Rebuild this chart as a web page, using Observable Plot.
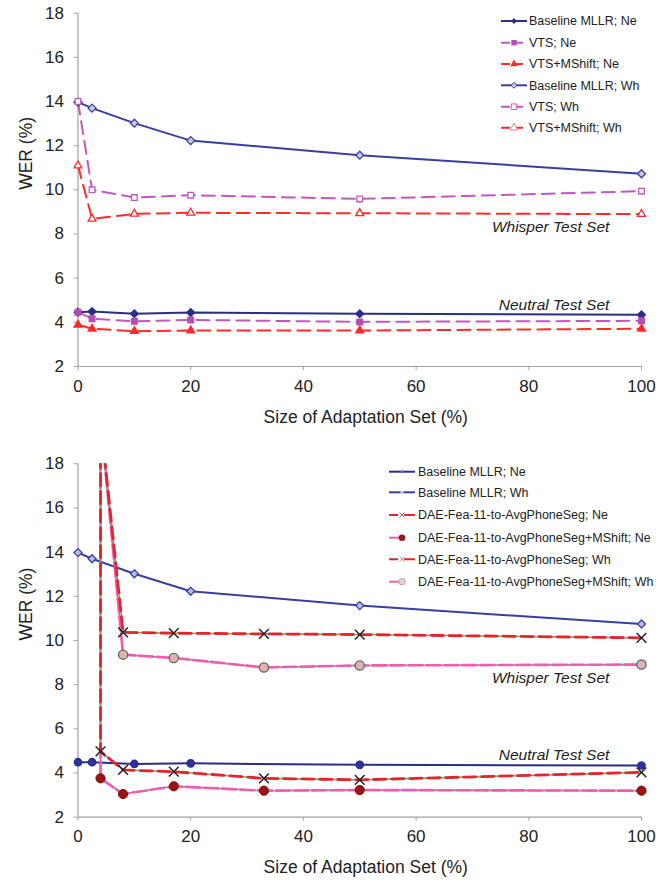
<!DOCTYPE html>
<html>
<head>
<meta charset="utf-8">
<script src="https://cdn.jsdelivr.net/npm/d3@7"></script>
<script src="https://cdn.jsdelivr.net/npm/@observablehq/plot@0.6"></script>
<style>
  html, body { margin: 0; padding: 0; background: #fff; }
  #chart { width: 671px; }
  svg { display: block; }
</style>
</head>
<body>
<div id="chart"></div>
<script>
// ---------- data (top chart) ----------
const xTop = [0, 2.5, 10, 20, 50, 100];
const topBaseNe = [4.46, 4.49, 4.39, 4.44, 4.39, 4.34];
const topVtsNe = [4.46, 4.16, 4.05, 4.11, 4.02, 4.07];
const topVtsMsNe = [3.89, 3.71, 3.60, 3.63, 3.63, 3.71];
const topBaseWh = [13.97, 13.70, 13.02, 12.23, 11.57, 10.73];
const topVtsWh = [14.0, 10.0, 9.65, 9.76, 9.59, 9.94];
const topVtsMsWh = [11.1, 8.69, 8.91, 8.96, 8.94, 8.90];

// ---------- data (bottom chart) ----------
const xBase = [0, 2.5, 10, 20, 50, 100];
const botBaseNe = [4.49, 4.49, 4.41, 4.44, 4.37, 4.34];
const botBaseWh = [13.98, 13.70, 13.02, 12.23, 11.58, 10.75];
// DAE series start off-scale (above 18) at x = 4
const xDaeNe = [4, 4, 8, 17, 33, 50, 100];
const daeNe = [20, 4.98, 4.14, 4.06, 3.76, 3.69, 4.03];
const daeMsNe = [20, 3.76, 3.05, 3.40, 3.20, 3.23, 3.20];
const xDaeWh = [4, 8, 17, 33, 50, 100];
const daeWh = [20, 10.37, 10.33, 10.30, 10.27, 10.12];
const daeMsWh = [20, 9.36, 9.21, 8.78, 8.87, 8.91];

const xTicks = [0, 20, 40, 60, 80, 100];
const yTicks = [2, 4, 6, 8, 10, 12, 14, 16, 18];
const yMax = 18;

const zip = (xs, ys) => xs.map((x, i) => ({x, y: ys[i]}));
const onScale = rows => rows.filter(d => d.y <= yMax);

const NAVY = "#2b2e86";
const NAVY2 = "#3a3e9c";
const MAG = "#c257c0";
const RED = "#ff2a2a";
const DRED = "#e4262b";
const PINK = "#f25bb4";
const GRAY = "#8a968a";
const FONT = "'Liberation Sans', Arial, Helvetica, sans-serif";

function frame(extra, margins) {
  return Plot.plot({
    width: 671,
    height: 442,
    ...margins,
    x: {domain: [0, 100]},
    y: {domain: [2, 18]},
    style: {fontFamily: FONT, fontSize: "17px", background: "white", color: "#222"},
    marks: [
      Plot.ruleX([0], {stroke: "#a0a0a0", strokeWidth: 1.2}),
      Plot.ruleY([2], {stroke: "#a0a0a0", strokeWidth: 1.2}),
      Plot.axisX({ticks: xTicks, tickSize: 4, tickPadding: 9, stroke: "#a0a0a0", fill: "#222", fontSize: 17, label: null}),
      Plot.axisY({ticks: yTicks, tickSize: 4, tickPadding: 10, stroke: "#a0a0a0", fill: "#222", fontSize: 17, label: null}),
      Plot.text(["WER (%)"], {frameAnchor: "left", dx: -52, rotate: -90, fontSize: 17.5, fill: "#222"}),
      Plot.text(["Size of Adaptation Set (%)"], {frameAnchor: "bottom", dx: 6, dy: 56, fontSize: 17.5, fill: "#222"}),
      Plot.text([{x: 94.3, y: 8.3, t: "Whisper Test Set"}, {x: 94.3, y: 4.8, t: "Neutral Test Set"}],
        {x: "x", y: "y", text: "t", textAnchor: "end", fontStyle: "italic", fontSize: 15.5, fill: "#222"}),
      ...extra
    ]
  });
}

function legend(svg, x0, x1, tx, entries) {
  const g = d3.select(svg).append("g").attr("font-family", FONT).attr("font-size", 12.5).attr("text-anchor", "start");
  entries.forEach(e => {
    const row = g.append("g").attr("transform", `translate(0,${e.y})`);
    row.append("line").attr("x1", x0).attr("x2", e.lineEnd ?? x1).attr("y1", 0).attr("y2", 0)
      .attr("stroke", e.color).attr("stroke-width", 2).attr("stroke-dasharray", e.dash || null);
    const sym = d3.symbol().type(e.symbol).size(e.size || 30);
    row.append("path").attr("d", sym()).attr("transform", `translate(${e.mx ?? (x0 + x1) / 2},0)`)
      .attr("fill", e.fill).attr("stroke", e.stroke || "none").attr("stroke-width", e.sw || 1);
    row.append("text").attr("x", tx).attr("y", 0).attr("dy", "0.35em").attr("fill", "#222").text(e.label);
  });
}

// ---------- top chart ----------
const tBaseNe = zip(xTop, topBaseNe), tVtsNe = zip(xTop, topVtsNe), tVtsMsNe = zip(xTop, topVtsMsNe);
const tBaseWh = zip(xTop, topBaseWh), tVtsWh = zip(xTop, topVtsWh), tVtsMsWh = zip(xTop, topVtsMsWh);

const topChart = frame([
  Plot.line(tBaseWh, {x: "x", y: "y", stroke: NAVY2, strokeWidth: 2}),
  Plot.line(tVtsWh, {x: "x", y: "y", stroke: MAG, strokeWidth: 2, strokeDasharray: "13,7"}),
  Plot.line(tVtsMsWh, {x: "x", y: "y", stroke: RED, strokeWidth: 2, strokeDasharray: "13,7"}),
  Plot.line(tBaseNe, {x: "x", y: "y", stroke: NAVY, strokeWidth: 2}),
  Plot.line(tVtsNe, {x: "x", y: "y", stroke: MAG, strokeWidth: 2, strokeDasharray: "13,7"}),
  Plot.line(tVtsMsNe, {x: "x", y: "y", stroke: RED, strokeWidth: 2, strokeDasharray: "13,7"}),
  Plot.dot(tBaseWh, {x: "x", y: "y", symbol: "diamond2", r: 3.6, fill: "#c9cbe6", stroke: NAVY2, strokeWidth: 1.3}),
  Plot.dot(tVtsWh, {x: "x", y: "y", symbol: "square2", r: 3.6, fill: "white", stroke: MAG, strokeWidth: 1.3}),
  Plot.dot(tVtsMsWh, {x: "x", y: "y", symbol: "triangle2", r: 3.8, fill: "white", stroke: RED, strokeWidth: 1.3}),
  Plot.dot(tBaseNe, {x: "x", y: "y", symbol: "diamond2", r: 3.4, fill: NAVY, stroke: NAVY}),
  Plot.dot(tVtsNe, {x: "x", y: "y", symbol: "square2", r: 3.5, fill: "#b54fb3", stroke: "#b54fb3"}),
  Plot.dot(tVtsMsNe, {x: "x", y: "y", symbol: "triangle2", r: 3.6, fill: RED, stroke: RED})
], {marginLeft: 77.5, marginRight: 30, marginTop: 12.7, marginBottom: 76});

legend(topChart, 501, 527, 529, [
  {y: 21, label: "Baseline MLLR; Ne", color: NAVY, symbol: d3.symbolDiamond2, fill: NAVY, size: 22},
  {y: 42.7, label: "VTS; Ne", color: MAG, dash: "9,4", lineEnd: 524, symbol: d3.symbolSquare, fill: "#b54fb3", size: 30},
  {y: 64, label: "VTS+MShift; Ne", color: RED, dash: "9,4", lineEnd: 524, symbol: d3.symbolTriangle, fill: RED, size: 26},
  {y: 85.3, label: "Baseline MLLR; Wh", color: NAVY2, symbol: d3.symbolDiamond2, fill: "#c9cbe6", stroke: NAVY2, size: 22},
  {y: 106.7, label: "VTS; Wh", color: MAG, dash: "9,4", lineEnd: 524, symbol: d3.symbolSquare, fill: "white", stroke: MAG, size: 30},
  {y: 127.7, label: "VTS+MShift; Wh", color: RED, dash: "9,4", lineEnd: 524, symbol: d3.symbolTriangle, fill: "white", stroke: "#f08080", size: 26}
]);

// ---------- bottom chart ----------
const bBaseNe = zip(xBase, botBaseNe), bBaseWh = zip(xBase, botBaseWh);
const bDaeNe = zip(xDaeNe, daeNe), bDaeMsNe = zip(xDaeNe, daeMsNe);
const bDaeWh = zip(xDaeWh, daeWh), bDaeMsWh = zip(xDaeWh, daeMsWh);

const bottomChart = frame([
  Plot.line(bBaseWh, {x: "x", y: "y", stroke: NAVY2, strokeWidth: 2}),
  Plot.line(bBaseNe, {x: "x", y: "y", stroke: NAVY, strokeWidth: 2}),
  Plot.line(bDaeMsWh, {x: "x", y: "y", stroke: GRAY, strokeWidth: 1.6, clip: true}),
  Plot.line(bDaeMsWh, {x: "x", y: "y", stroke: PINK, strokeWidth: 2.6, strokeDasharray: "14,4", clip: true}),
  Plot.line(bDaeWh, {x: "x", y: "y", stroke: GRAY, strokeWidth: 1.6, clip: true}),
  Plot.line(bDaeWh, {x: "x", y: "y", stroke: DRED, strokeWidth: 2.8, strokeDasharray: "12,6", clip: true}),
  Plot.line(bDaeMsNe, {x: "x", y: "y", stroke: GRAY, strokeWidth: 1.6, clip: true}),
  Plot.line(bDaeMsNe, {x: "x", y: "y", stroke: PINK, strokeWidth: 2.6, strokeDasharray: "14,4", clip: true}),
  Plot.line(bDaeNe, {x: "x", y: "y", stroke: GRAY, strokeWidth: 1.6, clip: true}),
  Plot.line(bDaeNe, {x: "x", y: "y", stroke: DRED, strokeWidth: 2.8, strokeDasharray: "12,6", clip: true}),
  Plot.dot(bBaseWh, {x: "x", y: "y", symbol: "diamond2", r: 3.6, fill: "#b9bde6", stroke: NAVY2, strokeWidth: 1.3}),
  Plot.dot(bBaseNe, {x: "x", y: "y", symbol: "circle", r: 3.6, fill: "#2f33a0", stroke: NAVY}),
  Plot.dot(onScale(bDaeWh), {x: "x", y: "y", symbol: "times", r: 4.5, stroke: "#222", strokeWidth: 1.5}),
  Plot.dot(onScale(bDaeNe), {x: "x", y: "y", symbol: "times", r: 4.5, stroke: "#222", strokeWidth: 1.5}),
  Plot.dot(onScale(bDaeMsWh), {x: "x", y: "y", symbol: "circle", r: 4.6, fill: "#e3b1b1", stroke: "#5f6a5f", strokeWidth: 1.3}),
  Plot.dot(onScale(bDaeMsNe), {x: "x", y: "y", symbol: "circle", r: 4.6, fill: "#9c1414", stroke: "#7a1010", strokeWidth: 1})
], {marginLeft: 77.5, marginRight: 30, marginTop: 21.3, marginBottom: 67.3});

legend(bottomChart, 389, 415, 418, [
  {y: 29.7, label: "Baseline MLLR; Ne", color: NAVY, symbol: d3.symbolCircle, fill: "#6b6fb8", size: 10},
  {y: 50.3, label: "Baseline MLLR; Wh", color: NAVY2, symbol: d3.symbolDiamond2, fill: "#c9cbe6", size: 12},
  {y: 73, label: "DAE-Fea-11-to-AvgPhoneSeg; Ne", color: DRED, dash: "9,6,11", symbol: d3.symbolTimes, fill: "none", stroke: "#777", size: 18},
  {y: 95.7, label: "DAE-Fea-11-to-AvgPhoneSeg+MShift; Ne", color: PINK, lineEnd: 402, symbol: d3.symbolCircle, fill: "#9c1414", size: 34},
  {y: 117.3, label: "DAE-Fea-11-to-AvgPhoneSeg; Wh", color: DRED, dash: "9,6,11", symbol: d3.symbolTimes, fill: "none", stroke: "#999", size: 18},
  {y: 139.7, label: "DAE-Fea-11-to-AvgPhoneSeg+MShift; Wh", color: PINK, lineEnd: 402, symbol: d3.symbolCircle, fill: "#e8d0d0", stroke: "#aaa", size: 34}
]);

const chart = document.getElementById("chart");
chart.append(topChart, bottomChart);
</script>
</body>
</html>
